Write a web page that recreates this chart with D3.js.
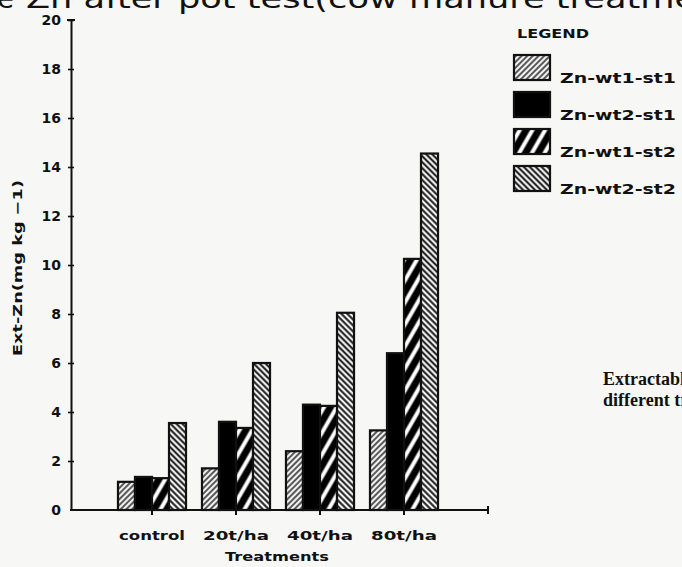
<!DOCTYPE html>
<html>
<head>
<meta charset="utf-8">
<script src="https://cdn.jsdelivr.net/npm/d3@7"></script>
<style>
  html, body { margin: 0; padding: 0; background: #f7f7f5; }
  svg { display: block; }
</style>
</head>
<body>
<svg id="chart" width="682" height="567"></svg>
<script>
// Extractable Zn after the pot test, by manure treatment
const treatments = ["control", "20t/ha", "40t/ha", "80t/ha"];
const seriesNames = ["Zn-wt1-st1", "Zn-wt2-st1", "Zn-wt1-st2", "Zn-wt2-st2"];
const znWt1St1 = [1.15, 1.7, 2.4, 3.25];
const znWt2St1 = [1.35, 3.6, 4.3, 6.4];
const znWt1St2 = [1.3, 3.35, 4.25, 10.25];
const znWt2St2 = [3.55, 6.0, 8.05, 14.55];
const yTicks = [0, 2, 4, 6, 8, 10, 12, 14, 16, 18, 20];

const seriesValues = [znWt1St1, znWt2St1, znWt1St2, znWt2St2];
const fills = ["url(#hatchFine)", "#000", "url(#stripeBold)", "url(#hatchBack)"];

const svg = d3.select("#chart");
const ink = "#111";
const sans = "DejaVu Sans, sans-serif";

// hatch patterns
const defs = svg.append("defs");
function hatch(id, spacing, angle, stroke, strokeW, bg) {
  const p = defs.append("pattern")
    .attr("id", id)
    .attr("patternUnits", "userSpaceOnUse")
    .attr("width", spacing).attr("height", spacing)
    .attr("patternTransform", `rotate(${angle})`);
  p.append("rect").attr("width", spacing).attr("height", spacing).attr("fill", bg);
  p.append("line")
    .attr("x1", spacing / 2).attr("y1", 0)
    .attr("x2", spacing / 2).attr("y2", spacing)
    .attr("stroke", stroke).attr("stroke-width", strokeW);
}
hatch("hatchFine", 4, 45, "#333", 1.6, "#f2f2f2");
hatch("stripeBold", 11, 30, "#fff", 4, "#000");
hatch("hatchBack", 4.2, -45, "#111", 1.9, "#f2f2f2");

// scales
const y = d3.scaleLinear().domain([0, 20]).range([510, 20]);
const x = d3.scaleBand().domain(treatments).range([110, 446])
  .paddingInner(0.19).paddingOuter(0.095);
const xInner = d3.scaleBand().domain(d3.range(seriesNames.length))
  .range([0, x.bandwidth()]);

// bars
const groups = svg.append("g").selectAll("g")
  .data(treatments)
  .join("g")
  .attr("transform", d => `translate(${x(d)},0)`);

groups.selectAll("rect")
  .data((d, i) => seriesValues.map((vals, s) => ({ s, v: vals[i] })))
  .join("rect")
  .attr("x", d => xInner(d.s))
  .attr("y", d => y(d.v))
  .attr("width", xInner.bandwidth())
  .attr("height", d => y(0) - y(d.v))
  .attr("fill", d => fills[d.s])
  .attr("stroke", ink)
  .attr("stroke-width", 2.2);

// y axis
const yAxis = d3.axisLeft(y).tickValues(yTicks).tickSize(0).tickPadding(10);
const gy = svg.append("g").attr("transform", "translate(71,0)").call(yAxis);
gy.select(".domain").attr("stroke", ink).attr("stroke-width", 2);
gy.selectAll(".tick text")
  .attr("font-family", sans)
  .attr("font-weight", "bold")
  .attr("font-size", 14)
  .attr("fill", ink);
gy.selectAll(".tick").filter(d => d > 0)
  .append("line").attr("x1", -3).attr("x2", 3)
  .attr("stroke", ink).attr("stroke-width", 1.6);
gy.append("line").attr("x1", -4).attr("x2", 4)
  .attr("y1", y(20)).attr("y2", y(20))
  .attr("stroke", ink).attr("stroke-width", 2);

// x axis
const xAxis = d3.axisBottom(x).tickSize(5).tickPadding(16);
const gx = svg.append("g").attr("transform", `translate(0,${y(0)})`).call(xAxis);
gx.select(".domain").remove();
gx.append("line").attr("x1", 70).attr("x2", 488).attr("stroke", ink).attr("stroke-width", 2);
gx.append("line").attr("x1", 488).attr("x2", 488).attr("y1", -4).attr("y2", 4)
  .attr("stroke", ink).attr("stroke-width", 2);
gx.selectAll(".tick line").attr("stroke", ink).attr("stroke-width", 2);
gx.selectAll(".tick text")
  .attr("font-family", sans)
  .attr("font-weight", "bold")
  .attr("font-size", 13)
  .attr("textLength", 66)
  .attr("lengthAdjust", "spacingAndGlyphs")
  .attr("fill", ink);

// axis titles
svg.append("text")
  .attr("x", 277).attr("y", 561)
  .attr("text-anchor", "middle")
  .attr("font-family", sans)
  .attr("font-weight", "bold").attr("font-size", 13)
  .attr("textLength", 104).attr("lengthAdjust", "spacingAndGlyphs")
  .attr("fill", ink)
  .text("Treatments");

svg.append("text")
  .attr("transform", "translate(22,268) rotate(-90)")
  .attr("text-anchor", "middle")
  .attr("font-family", sans)
  .attr("font-weight", "bold").attr("font-size", 13)
  .attr("textLength", 176).attr("lengthAdjust", "spacingAndGlyphs")
  .attr("fill", ink)
  .text("Ext-Zn(mg kg \u22121)");

// chart title, running off the top and right edges
svg.append("text")
  .attr("x", 26).attr("y", 8)
  .attr("font-family", sans)
  .attr("font-size", 27)
  .attr("textLength", 720).attr("lengthAdjust", "spacingAndGlyphs")
  .attr("fill", ink)
  .text("Zn after pot test(cow manure treatment)");
svg.append("text")
  .attr("x", 14).attr("y", 8)
  .attr("text-anchor", "end")
  .attr("font-family", sans).attr("font-size", 27)
  .attr("fill", ink)
  .text("ble");

// legend
const legend = svg.append("g");
legend.append("text")
  .attr("x", 517).attr("y", 38)
  .attr("font-family", sans)
  .attr("font-weight", "bold").attr("font-size", 12)
  .attr("textLength", 72).attr("lengthAdjust", "spacingAndGlyphs")
  .attr("fill", ink)
  .text("LEGEND");

const items = legend.selectAll("g.item")
  .data(seriesNames)
  .join("g").attr("class", "item")
  .attr("transform", (d, i) => `translate(514,${55 + i * 37})`);
items.append("rect")
  .attr("width", 36).attr("height", 25)
  .attr("fill", (d, i) => fills[i])
  .attr("stroke", ink).attr("stroke-width", 2.2);
items.append("text")
  .attr("x", 46).attr("y", 28)
  .attr("font-family", sans)
  .attr("font-weight", "bold").attr("font-size", 14)
  .attr("textLength", 116).attr("lengthAdjust", "spacingAndGlyphs")
  .attr("fill", ink)
  .text(d => d);

// side caption, running off the right edge
const cap = svg.append("text")
  .attr("font-family", "Liberation Serif, Times New Roman, serif")
  .attr("font-weight", "bold").attr("font-size", 18)
  .attr("fill", ink);
cap.append("tspan").attr("x", 603).attr("y", 385).text("Extractable Zn");
cap.append("tspan").attr("x", 603).attr("y", 406).text("different treatments");
</script>
</body>
</html>
